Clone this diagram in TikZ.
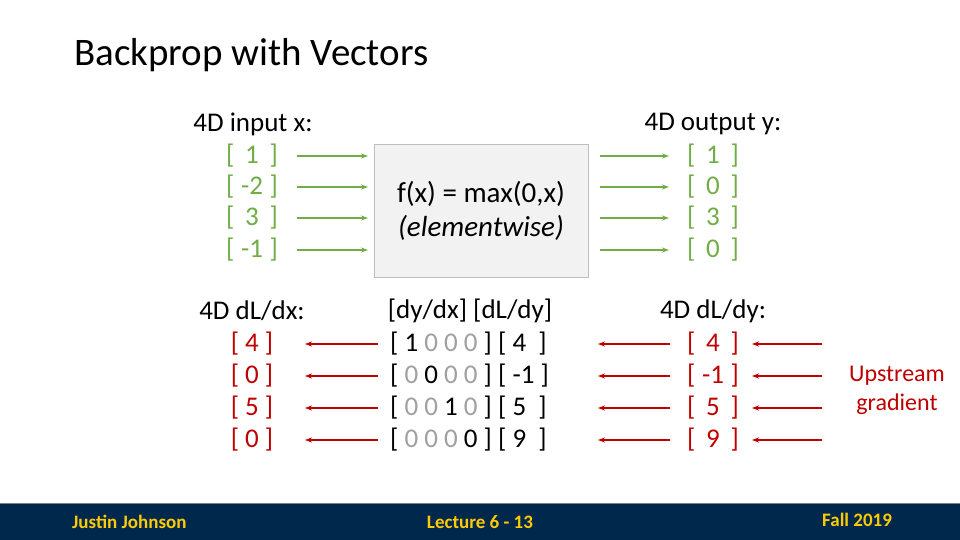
\documentclass[tikz,border=0pt]{standalone}
\usepackage{fontspec}
\setmainfont{Carlito}
\usetikzlibrary{arrows.meta}
\definecolor{grn}{RGB}{112,173,71}
\definecolor{rd}{RGB}{192,0,0}
\definecolor{gry}{RGB}{160,160,160}
\definecolor{navy}{RGB}{0,39,76}
\definecolor{maize}{RGB}{255,203,5}
\definecolor{boxfill}{RGB}{242,242,242}
\definecolor{boxline}{RGB}{190,190,190}
\tikzset{
  lbl/.style={font=\fontsize{27}{32}\selectfont, inner sep=0pt},
  gval/.style={lbl, text=grn},
  rval/.style={lbl, text=rd},
  garrow/.style={draw=grn, line width=1.2pt, -{Stealth[length=7pt,width=5pt]}},
  rarrow/.style={draw=rd, line width=1.2pt, -{Stealth[length=7pt,width=5pt]}},
  foot/.style={font=\bfseries\fontsize{19}{22}\selectfont, text=maize, inner sep=0pt},
}
\newcommand{\gz}{\textcolor{gry}{0}}
\newcommand{\vb}[1]{[\makebox[35pt]{#1}]}
\begin{document}
\begin{tikzpicture}[x=1pt,y=-1pt]
\useasboundingbox (0,0) rectangle (960,540);
\fill[white] (0,0) rectangle (960,540);
% title
\node[anchor=west, inner sep=0pt, font=\fontsize{39}{44}\selectfont] (title) at (74,55) {Backprop with Vectors};
% function box
\node[draw=boxline, fill=boxfill, line width=1pt, minimum width=214pt, minimum height=132pt, inner sep=0pt, align=center, font=\fontsize{29}{34}\selectfont] (f) at (481,211) {f(x) = max(0,x)\\\itshape (elementwise)};
% input
\node[lbl] (inl) at (253,124) {4D input x:};
\node[gval] (x1) at (252,156) {\vb{1}};
\node[gval] (x2) at (252,187) {\vb{-2}};
\node[gval] (x3) at (252,218) {\vb{3}};
\node[gval] (x4) at (252,250) {\vb{-1}};
\foreach \i/\y in {1/156,2/187,3/218,4/250}{
  \coordinate (ia\i) at (297,\y);
  \coordinate (ib\i) at (368,\y);
  \draw[garrow] (ia\i) -- (ib\i);
}
% output
\node[lbl] (outl) at (713,124) {4D output y:};
\node[gval] (y1) at (713,156) {\vb{1}};
\node[gval] (y2) at (713,187) {\vb{0}};
\node[gval] (y3) at (713,218) {\vb{3}};
\node[gval] (y4) at (713,250) {\vb{0}};
\foreach \i/\y in {1/156,2/187,3/218,4/250}{
  \coordinate (oa\i) at (600,\y);
  \coordinate (ob\i) at (669,\y);
  \draw[garrow] (oa\i) -- (ob\i);
}
% dL/dx
\node[lbl] (dxl) at (252,311) {4D dL/dx:};
\node[rval] (dx1) at (252,344) {[ 4 ]};
\node[rval] (dx2) at (252,376) {[ 0 ]};
\node[rval] (dx3) at (252,408) {[ 5 ]};
\node[rval] (dx4) at (252,440) {[ 0 ]};
% jacobian
\node[lbl] (jl) at (470,311) {[dy/dx] [dL/dy]};
\node[lbl, anchor=west] (j1) at (390,344) {[ 1 \gz\ \gz\ \gz\ ] [ 4\ \ ]};
\node[lbl, anchor=west] (j2) at (390,376) {[ \gz\ 0 \gz\ \gz\ ] [ -1 ]};
\node[lbl, anchor=west] (j3) at (390,408) {[ \gz\ \gz\ 1 \gz\ ] [ 5\ \ ]};
\node[lbl, anchor=west] (j4) at (390,440) {[ \gz\ \gz\ \gz\ 0 ] [ 9\ \ ]};
\foreach \i/\y in {1/344,2/376,3/408,4/440}{
  \coordinate (ja\i) at (378,\y);
  \coordinate (jb\i) at (305,\y);
  \draw[rarrow] (ja\i) -- (jb\i);
}
% dL/dy
\node[lbl] (dyl) at (713,311) {4D dL/dy:};
\node[rval] (dy1) at (713,344) {\vb{4}};
\node[rval] (dy2) at (713,376) {\vb{-1}};
\node[rval] (dy3) at (713,408) {\vb{5}};
\node[rval] (dy4) at (713,440) {\vb{9}};
\foreach \i/\y in {1/344,2/376,3/408,4/440}{
  \coordinate (ka\i) at (670,\y);
  \coordinate (kb\i) at (598,\y);
  \draw[rarrow] (ka\i) -- (kb\i);
  \coordinate (ua\i) at (822,\y);
  \coordinate (ub\i) at (752,\y);
  \draw[rarrow] (ua\i) -- (ub\i);
}
\node[rval, align=center, font=\fontsize{24}{29}\selectfont] (up) at (897,390) {Upstream\\gradient};
% footer
\fill[navy] (0,503) rectangle (960,540);
\draw[color=boxline!60!navy, line width=1pt] (0,503) -- (960,503);
\node[foot, anchor=west] (fa) at (72,522) {Justin Johnson};
\node[foot] (fb) at (480,522) {Lecture 6 - 13};
\node[foot, anchor=west] (fc) at (822,520) {Fall 2019};
\end{tikzpicture}
\end{document}
